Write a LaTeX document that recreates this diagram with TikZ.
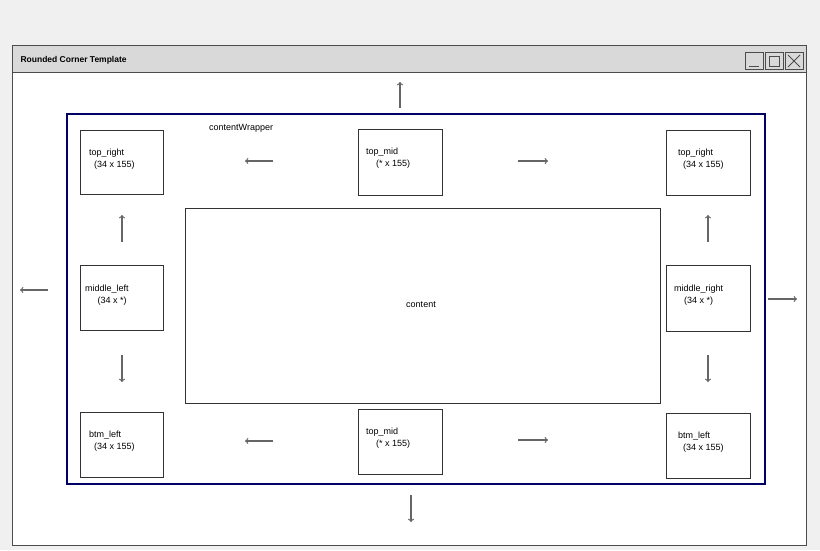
\documentclass[tikz,border=0pt]{standalone}
\usepackage{fontspec}
\setmainfont{Liberation Sans}
\usetikzlibrary{positioning}

\tikzset{
  box/.style={draw=black!80,line width=0.9pt},
  lbl/.style={font=\fontsize{9}{12}\selectfont,align=left,anchor=north west,inner sep=0pt},
  arr/.style={draw=black!60,line width=1.2pt,-to}
}

\begin{document}
\begin{tikzpicture}
  [x=1pt,y=-1pt]
  \useasboundingbox (0,0) rectangle (820,550);

  % window frame
  \fill[black!6] (0,0) rectangle (820,550);
  \fill[white] (12,45) rectangle (806,545);
  \fill[black!15] (12,45) rectangle (806,72);
  \draw[black!70,line width=1pt] (12,45) rectangle (806,545);
  \draw[black!70,line width=1pt] (12,72) -- (806,72);
  \node[font=\fontsize{8.5}{10}\selectfont\bfseries,anchor=west] (title) at (17,60) {Rounded Corner Template};
  \draw[black!70,line width=0.9pt] (745,52) rectangle (763,69) (765,52) rectangle (783,69) (785,52) rectangle (803,69);
  \draw[black!70,line width=0.9pt] (749,66) -- (759,66);
  \draw[black!70,line width=0.9pt] (769,56) rectangle (779,66);
  \draw[black!70,line width=0.9pt] (788,55) -- (800,67) (800,55) -- (788,67);

  % wrapper
  \draw[blue!40!black,line width=1.3pt] (67,114) rectangle (765,484);
  \node[lbl] (wrap) at (209,124) {contentWrapper};

  % boxes
  \draw[box] (80,130) rectangle (163,194);
  \node[lbl] (tl) at (89,149) {top\_right\\\ \ (34 x 155)};
  \draw[box] (358,129) rectangle (442,195);
  \node[lbl] (tm) at (366,148) {top\_mid\\\ \ \ \ (* x 155)};
  \draw[box] (666,130) rectangle (750,195);
  \node[lbl] (tr) at (678,149) {top\_right\\\ \ (34 x 155)};
  \draw[box] (80,265) rectangle (163,330);
  \node[lbl] (ml) at (85,285) {middle\_left\\\ \ \ \ \ (34 x *)};
  \draw[box] (666,265) rectangle (750,331);
  \node[lbl] (mr) at (674,285) {middle\_right\\\ \ \ \ (34 x *)};
  \draw[box] (80,412) rectangle (163,477);
  \node[lbl] (bl) at (89,431) {btm\_left\\\ \ (34 x 155)};
  \draw[box] (358,409) rectangle (442,474);
  \node[lbl] (bm) at (366,428) {top\_mid\\\ \ \ \ (* x 155)};
  \draw[box] (666,413) rectangle (750,478);
  \node[lbl] (br) at (678,432) {btm\_left\\\ \ (34 x 155)};

  \draw[box] (185,208) rectangle (660,403);
  \node[font=\fontsize{9}{11}\selectfont] (content) at (421,305) {content};

  % arrows
  \foreach \name/\x/\y in {a/400/108,b/400/82,c/273/161,d/245/161,e/518/161,f/548/161,
    g/122/242,h/122/215,i/122/355,j/122/382,k/708/242,l/708/215,m/708/355,n/708/382,
    o/273/441,p/245/441,q/518/440,r/548/440,s/411/495,t/411/522,u/48/290,v/20/290,
    w/768/299,z/797/299}
    \coordinate (\name) at (\x,\y);
  \foreach \from/\to in {a/b,c/d,e/f,g/h,i/j,k/l,m/n,o/p,q/r,s/t,u/v,w/z}
    \draw[arr] (\from) -- (\to);
\end{tikzpicture}
\end{document}
